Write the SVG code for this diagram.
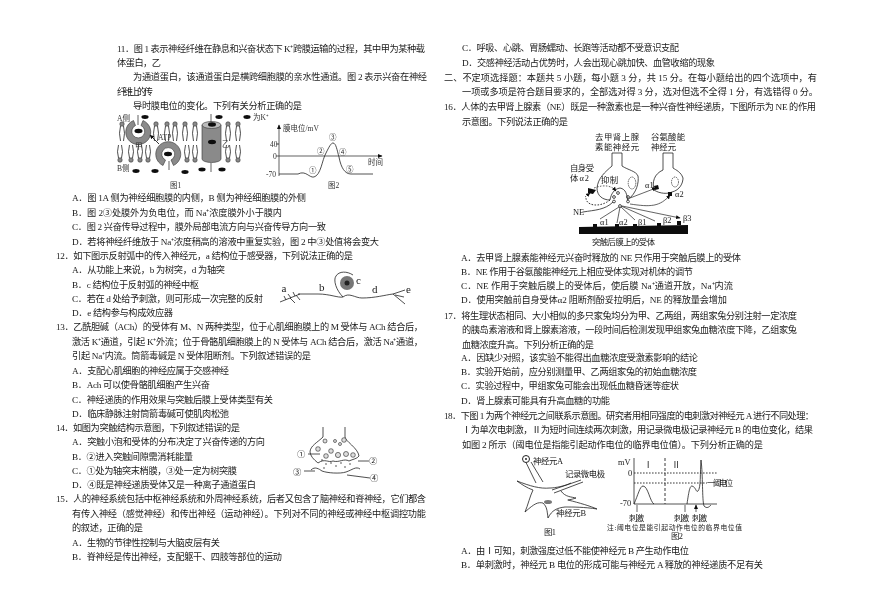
<svg xmlns="http://www.w3.org/2000/svg" width="870" height="614" viewBox="0 0 870 614">
<defs>
<style>
text{font-family:"Liberation Serif","Noto Sans CJK SC",serif;fill:#1a1a1a;dominant-baseline:central}
.t{font-size:9.2px}
.s{font-size:7.5px;fill:#333}
.m{font-size:8.4px}
.l{fill:none;stroke:#222;stroke-width:.8}
.g{fill:#8a8a8a;stroke:#333;stroke-width:.6}
.k{fill:#111;stroke:none}
.d{fill:none;stroke:#222;stroke-width:.9;stroke-dasharray:1.6 1.4}
.a{fill:none;stroke:#222;stroke-width:.7;marker-end:url(#ah)}
</style>
<filter id="soft" x="-2%" y="-2%" width="104%" height="104%"><feGaussianBlur stdDeviation="0.25"/></filter>
<marker id="ah" markerWidth="5" markerHeight="5" refX="4" refY="2.5" orient="auto" markerUnits="userSpaceOnUse"><path d="M0 .5L4.5 2.5L0 4.5Z" fill="#111"/></marker>
<g id="lu"><circle cx="0" cy="0" r="2.2" class="g"/><path class="l" d="M-1.5 2Q-3.5 9-1.5 17M1.5 2Q3.5 9 1.5 17"/></g>
<g id="ld"><circle cx="0" cy="0" r="2.2" class="g"/><path class="l" d="M-1.5-2Q-3.5-8-1.5-15M1.5-2Q3.5-8 1.5-15"/></g>
</defs>
<rect width="870" height="614" fill="#fff"/>
<g id="text-left" class="t" filter="url(#soft)">
<text x="117" y="49" textLength="308">11．图 1 表示神经纤维在静息和兴奋状态下 K⁺跨膜运输的过程，其中甲为某种载</text>
<text x="117" y="63" textLength="44">体蛋白，乙</text>
<text x="133" y="77" textLength="294">为通道蛋白，该通道蛋白是横跨细胞膜的亲水性通道。图 2 表示兴奋在神经</text>
<text x="117" y="92" textLength="36">纤维上的传</text>
<text x="133" y="106" textLength="169">导时膜电位的变化。下列有关分析正确的是</text>
<text x="72" y="198" textLength="234">A．图 1A 侧为神经细胞膜的内侧，B 侧为神经细胞膜的外侧</text>
<text x="72" y="213" textLength="210">B．图 2③处膜外为负电位，而 Na⁺浓度膜外小于膜内</text>
<text x="72" y="227" textLength="254">C．图 2 兴奋传导过程中，膜外局部电流方向与兴奋传导方向一致</text>
<text x="72" y="242" textLength="307">D．若将神经纤维放于 Na⁺浓度稍高的溶液中重复实验，图 2 中③处值将会变大</text>
<text x="56" y="256" textLength="297">12．如下图示反射弧中的传入神经元，a 结构位于感受器，下列说法正确的是</text>
<text x="72" y="270" textLength="153">A．从功能上来说，b 为树突，d 为轴突</text>
<text x="72" y="285" textLength="127">B．c 结构位于反射弧的神经中枢</text>
<text x="72" y="299" textLength="191">C．若在 d 处给予刺激，则可形成一次完整的反射</text>
<text x="72" y="313" textLength="101">D．e 结构参与构成效应器</text>
<text x="56" y="327" textLength="367">13．乙酰胆碱（ACh）的受体有 M、N 两种类型，位于心肌细胞膜上的 M 受体与 ACh 结合后，</text>
<text x="72" y="342" textLength="351">激活 K⁺通道，引起 K⁺外流；位于骨骼肌细胞膜上的 N 受体与 ACh 结合后，激活 Na⁺通道，</text>
<text x="72" y="356" textLength="239">引起 Na⁺内流。筒箭毒碱是 N 受体阻断剂。下列叙述错误的是</text>
<text x="72" y="371" textLength="157">A．支配心肌细胞的神经应属于交感神经</text>
<text x="72" y="385" textLength="138">B．Ach 可以使骨骼肌细胞产生兴奋</text>
<text x="72" y="400" textLength="201">C．神经递质的作用效果与突触后膜上受体类型有关</text>
<text x="72" y="414" textLength="157">D．临床静脉注射筒箭毒碱可使肌肉松弛</text>
<text x="56" y="428" textLength="184">14．如图为突触结构示意图，下列叙述错误的是</text>
<text x="72" y="442" textLength="193">A．突触小泡和受体的分布决定了兴奋传递的方向</text>
<text x="72" y="457" textLength="121">B．②进入突触间隙需消耗能量</text>
<text x="72" y="471" textLength="165">C．①处为轴突末梢膜，③处一定为树突膜</text>
<text x="72" y="485" textLength="184">D．④既是神经递质受体又是一种离子通道蛋白</text>
<text x="56" y="499" textLength="370">15．人的神经系统包括中枢神经系统和外周神经系统，后者又包含了脑神经和脊神经，它们都含</text>
<text x="72" y="514" textLength="354">有传入神经（感觉神经）和传出神经（运动神经）。下列对不同的神经或神经中枢调控功能</text>
<text x="72" y="528" textLength="71">的叙述，正确的是</text>
<text x="72" y="543" textLength="148">A．生物的节律性控制与大脑皮层有关</text>
<text x="72" y="557" textLength="210">B．脊神经是传出神经，支配躯干、四肢等部位的运动</text>
</g>
<g id="text-right" class="t" filter="url(#soft)">
<text x="462" y="48" textLength="217">C．呼吸、心跳、胃肠蠕动、长跑等活动都不受意识支配</text>
<text x="462" y="63" textLength="253">D．交感神经活动占优势时，人会出现心跳加快、血管收缩的现象</text>
<text x="444" y="78" textLength="373">二、不定项选择题：本题共 5 小题，每小题 3 分，共 15 分。在每小题给出的四个选项中，有</text>
<text x="462" y="92" textLength="356">一项或多项是符合题目要求的，全部选对得 3 分，选对但选不全得 1 分，有选错得 0 分。</text>
<text x="444" y="107" textLength="372">16．人体的去甲肾上腺素（NE）既是一种激素也是一种兴奋性神经递质，下图所示为 NE 的作用</text>
<text x="462" y="122" textLength="106">示意图。下列说法正确的是</text>
<text x="461" y="258" textLength="280">A．去甲肾上腺素能神经元兴奋时释放的 NE 只作用于突触后膜上的受体</text>
<text x="461" y="272" textLength="232">B．NE 作用于谷氨酸能神经元上相应受体实现对机体的调节</text>
<text x="461" y="286" textLength="272">C．NE 作用于突触后膜上的受体后，使后膜 Na⁺通道开放，Na⁺内流</text>
<text x="461" y="300" textLength="266">D．使用突触前自身受体α2 阻断剂酚妥拉明后，NE 的释放量会增加</text>
<text x="444" y="316" textLength="353">17．将生理状态相同、大小相似的多只家兔均分为甲、乙两组，两组家兔分别注射一定浓度</text>
<text x="462" y="330" textLength="335">的胰岛素溶液和肾上腺素溶液，一段时间后检测发现甲组家兔血糖浓度下降，乙组家兔</text>
<text x="462" y="345" textLength="132">血糖浓度升高。下列分析正确的是</text>
<text x="461" y="358" textLength="237">A．因缺少对照，该实验不能得出血糖浓度受激素影响的结论</text>
<text x="461" y="372" textLength="236">B．实验开始前，应分别测量甲、乙两组家兔的初始血糖浓度</text>
<text x="461" y="386" textLength="218">C．实验过程中，甲组家兔可能会出现低血糖昏迷等症状</text>
<text x="461" y="401" textLength="149">D．肾上腺素可能具有升高血糖的功能</text>
<text x="444" y="416" textLength="370">18．下图 1 为两个神经元之间联系示意图。研究者用相同强度的电刺激对神经元 A 进行不同处理：</text>
<text x="462" y="430" textLength="351">Ⅰ为单次电刺激，Ⅱ为短时间连续两次刺激，用记录微电极记录神经元 B 的电位变化，结果</text>
<text x="462" y="445" textLength="301">如图 2 所示（阈电位是指能引起动作电位的临界电位值）。下列分析正确的是</text>
<text x="461" y="551" textLength="228">A．由Ⅰ可知，刺激强度过低不能使神经元 B 产生动作电位</text>
<text x="461" y="565" textLength="302">B．单刺激时，神经元 B 电位的形成可能与神经元 A 释放的神经递质不足有关</text>
</g>
<g id="q11-fig1" filter="url(#soft)">
<use href="#lu" x="122" y="124"/><use href="#lu" x="156" y="124"/><use href="#lu" x="167" y="124"/><use href="#lu" x="175" y="124"/><use href="#lu" x="185" y="124"/><use href="#lu" x="195" y="124"/><use href="#lu" x="228" y="124"/><use href="#lu" x="238" y="124"/>
<use href="#ld" x="120" y="160"/><use href="#ld" x="131" y="160"/><use href="#ld" x="140" y="160"/><use href="#ld" x="148" y="160"/><use href="#ld" x="187" y="160"/><use href="#ld" x="195" y="160"/><use href="#ld" x="228" y="160"/><use href="#ld" x="238" y="160"/>
<path class="g" d="M133.5 120.5A12.5 12.5 0 1 0 143 120.5L141 125.5A6.5 6.5 0 1 1 135.500 125.5Z"/>
<path class="g" d="M163 165.5A12.5 12.5 0 1 1 173.5 165.5L171 160A6.5 6.5 0 1 0 165.5 160Z"/>
<path class="g" d="M202 125V159A9.5 3.5 0 0 0 221 159V125Z"/>
<ellipse cx="211.5" cy="125" rx="9.5" ry="3.5" fill="#bbb" stroke="#333" stroke-width=".6"/>
<g class="k"><ellipse cx="145" cy="117" rx="3.6" ry="1.9"/><ellipse cx="219" cy="117" rx="3.6" ry="1.9"/><ellipse cx="247" cy="117" rx="3.6" ry="1.9"/><ellipse cx="138.500" cy="131" rx="4" ry="2.2"/><ellipse cx="168" cy="154" rx="4" ry="2.2"/><ellipse cx="212" cy="124.500" rx="4" ry="2.2"/><ellipse cx="212" cy="142" rx="4" ry="2.2"/><ellipse cx="136" cy="171" rx="3.6" ry="1.9"/><ellipse cx="155" cy="171" rx="3.6" ry="1.9"/><ellipse cx="185" cy="172" rx="3.6" ry="1.9"/><ellipse cx="202" cy="169.500" rx="3.6" ry="1.9"/><ellipse cx="222" cy="169.500" rx="3.6" ry="1.9"/></g>
<path class="a" d="M138 115V125M169 161V170M211 122V114M211 163V172M150 135L159 144M159 144L150 135"/>
<text class="s" x="117" y="118">A侧</text><text class="s" x="117" y="168">B侧</text>
<text class="s" x="253" y="117">为K⁺</text><text class="s" x="158" y="137">ATP</text><text class="s" x="135" y="146">甲</text><text class="s" x="222" y="144">乙</text>
<text class="s" x="170" y="185">图1</text>
</g>
<g id="q11-fig2" filter="url(#soft)">
<path class="a" d="M279 176V125"/><path class="a" d="M276 156H382"/>
<path class="l" d="M276 144H279"/>
<path class="l" stroke-width="1" d="M279 174H298C306 170 309 178 314 177C321 175 322 160 326 153C329 147 331 143 333 143C336 143 337 150 339 157C341 168 345 174 351 174H373"/>
<text class="s" x="283" y="128">膜电位/mV</text><text class="s" x="368" y="162">时间</text><text class="s" x="270" y="144">40</text><text class="s" x="273" y="156">0</text><text class="s" x="266" y="174">-70</text>
<text class="s" x="309" y="170">①</text><text class="s" x="317" y="151">②</text><text class="s" x="329" y="137">③</text><text class="s" x="339" y="152">④</text><text class="s" x="346" y="169">⑤</text>
<text class="s" x="328" y="185">图2</text>
</g>
<g id="q12-reflex" filter="url(#soft)">
<path class="l" stroke-width="1.100" d="M280 302L300 294M286 300L284 296M291 298L288 294M295 296L293 292M290 298L295 303M296 295L300 300"/>
<path class="l" stroke-width="1.100" d="M298 294H318C330 294 338 298 343 297C336 290 333 280 336 276C339 271 347 271 353 275M343 297C349 292 355 298 362 298C375 298 385 295 393 294L405 290M393 294L405 304M395 295L404 297"/>
<circle cx="347" cy="283" r="7" fill="#777"/><circle cx="347" cy="283" r="2.5" fill="#222"/>
<g style="font-size:11px"><text x="281.500" y="288">a</text><text x="319" y="287">b</text><text x="356" y="280">c</text><text x="372" y="289">d</text><text x="406" y="289">e</text></g>
</g>
<g id="q14-synapse" filter="url(#soft)">
<path class="l" d="M323 427V437C318 442 310 446 310 452C311 458 316 461 318 463C325 458 328 463 333 461C339 463 344 458 349 461C353 459 357 459 359 456C358 448 345 441 345 437V427"/>
<path class="l" d="M311 470C315 466 319 469 322 471C327 473 340 474 346 472C352 470 356 466 360 469"/>
<g fill="#ddd" stroke="#222" stroke-width=".6"><circle cx="318" cy="449" r="2.300"/><circle cx="325" cy="441" r="2"/><circle cx="331" cy="451" r="2.300"/><circle cx="335" cy="441" r="1.500"/><circle cx="344" cy="440" r="2.300"/><circle cx="338" cy="455" r="2.600"/><circle cx="346" cy="454" r="2.500"/><circle cx="353" cy="455" r="2.300"/><circle cx="326" cy="456" r="2.300"/><circle cx="340" cy="444" r="1.500"/></g>
<g class="k"><circle cx="322" cy="460" r=".7"/><circle cx="326" cy="464" r=".7"/><circle cx="331" cy="463" r=".7"/><circle cx="336" cy="466" r=".7"/><circle cx="341" cy="463" r=".7"/><circle cx="345" cy="467" r=".7"/><circle cx="350" cy="464" r=".7"/><circle cx="324" cy="468" r=".7"/></g>
<path class="l" d="M308 454H320M358 461H369M304 471H315M370 478L347 475"/>
<g class="m"><text x="297" y="454">①</text><text x="369" y="461">②</text><text x="293" y="472">③</text><text x="370" y="478">④</text></g>
</g>
<g id="q16-fig" filter="url(#soft)">
<path class="l" stroke-width="1.100" d="M612 153V166C605 172 598 178 597 188C597 196 603 200 610 200C611 194 614 189 620 188C626 189 627 195 627.500 200C637 193 639 182 638 176C636 171 628 170 622 166V153Z"/>
<path class="l" stroke-width="1.100" d="M663 153V170C654 174 652 182 654 190C660 194 668 194 672 192C680 190 683 183 683 178C681 172 676 170 673 168V153Z"/>
<ellipse cx="632" cy="183" rx="3.800" ry="6" fill="#fff" stroke="#222" stroke-width=".7" stroke-dasharray="1.500 .8"/><ellipse cx="675" cy="182" rx="3.500" ry="5" fill="#fff" stroke="#222" stroke-width=".7" stroke-dasharray="1.500 .8"/>
<g fill="none" stroke="#222" stroke-width=".8"><circle cx="618" cy="193" r="1.400"/><circle cx="614" cy="197" r="1.400"/><circle cx="628" cy="197" r="1.400"/><circle cx="614" cy="201.500" r="1.400"/><circle cx="628" cy="201.500" r="1.400"/><circle cx="620" cy="206" r="1.400"/></g>
<path class="d" d="M610 200C600 208 585 206 586 197"/><path class="a" style="stroke-dasharray:1.600 1.400" d="M585 197L590 193"/>
<path class="a" style="stroke-dasharray:1.600 1.400" d="M594 188C605 184 612 186 616 191"/>
<path class="k" d="M588 188L596 190L593 194L588 193Z"/>
<path class="l" d="M583 212C595 210 605 210 613 202"/>
<path class="a" d="M619 207L600 219M620 207L617 223M621 207L635 220M621 206L655 221M622 206L680 218"/>
<path class="a" d="M630 198L656 188"/><path class="a" d="M630 204C650 207 660 207 670 195"/>
<path class="k" d="M654 186l4-1 1 4-4 1ZM668 192h4v4h-4ZM579 227L688 225V234H579Z"/>
<path class="k" d="M593 224h4v4h-4ZM615 224h4v4h-4ZM633 224h4v4h-4ZM657 223h4v4h-4ZM677 221h4v4h-4Z"/>
<g class="m"><text x="595" y="137" textLength="44">去甲肾上腺</text><text x="595" y="147" textLength="44">素能神经元</text><text x="651" y="137" textLength="34">谷氨酸能</text><text x="651" y="147" textLength="25">神经元</text><text x="570" y="168" textLength="24">自身受</text><text x="570" y="178" textLength="19">体α2</text><text x="601" y="180" textLength="17">抑制</text><text x="573" y="212">NE</text><text x="645" y="185">α1</text><text x="675" y="194">α2</text><text x="600" y="222">α1</text><text x="619" y="222">α2</text><text x="638" y="222">β1</text><text x="663" y="220">β2</text><text x="683" y="218">β3</text><text x="592" y="242" textLength="63">突触后膜上的受体</text></g>
</g>
<g id="q18-fig1" filter="url(#soft)">
<circle cx="526" cy="459" r="3.500" fill="#fff" stroke="#222"/><circle cx="526" cy="459" r=".9" fill="#111"/>
<path class="l" stroke-width="1" d="M526 462.500L536 483M531 462L543 482"/>
<path class="l" stroke-width="1" d="M517 481C530 486 540 489 550 488C555 488 565 486 571 483M561 491C565 497 572 497 576 498C570 500 567 500 568 500C580 503 590 506 597 509C585 507 572 507 565 507C557 508 552 510 548 518C547 510 547 507 543 503C538 502 535 503 525 512C528 505 530 496 533 490C527 488 521 484 517 481"/>
<path class="l" d="M552 490L581 480M554 493L583 482"/>
<ellipse cx="548" cy="502" rx="4" ry="2" fill="#777"/>
<g class="m"><text x="533" y="461" textLength="30">神经元A</text><text x="565" y="474" textLength="40">记录微电极</text><text x="556" y="513" textLength="30">神经元B</text><text x="544" y="532" textLength="12">图1</text></g>
</g>
<g id="q18-fig2" filter="url(#soft)">
<path class="l" stroke-width="1.100" d="M634 458V504H717"/>
<path class="d" d="M634 473H717M634 483H707"/><path class="d" style="stroke-dasharray:3 2" d="M665 458V504"/>
<path class="l" stroke-width="1.100" d="M634 504C638 495 640 486 643 486C648 486 650 502 654 504M687 504C689 490 690 486 692 486C696 487 696 493 698 491C701 488 700 473 701 460C703 475 702 500 704 506C707 509 709 507 711 505"/>
<path class="a" d="M637 512V505M685 512V505M696 512V505"/>
<g class="m"><text x="618" y="462">mV</text><text x="644" y="465">Ⅰ</text><text x="672" y="465">Ⅱ</text><text x="628" y="473">0</text><text x="707" y="483" textLength="26">一阈电位</text><text x="620" y="503">-70</text><text x="629" y="518" textLength="15">刺激</text><text x="674" y="518" textLength="15">刺激</text><text x="692" y="518" textLength="15">刺激</text><text style="font-size:6.800px" x="607" y="527" textLength="135">注:阈电位是能引起动作电位的临界电位值</text><text x="671" y="536" textLength="12">图2</text></g>
</g>
</svg>
